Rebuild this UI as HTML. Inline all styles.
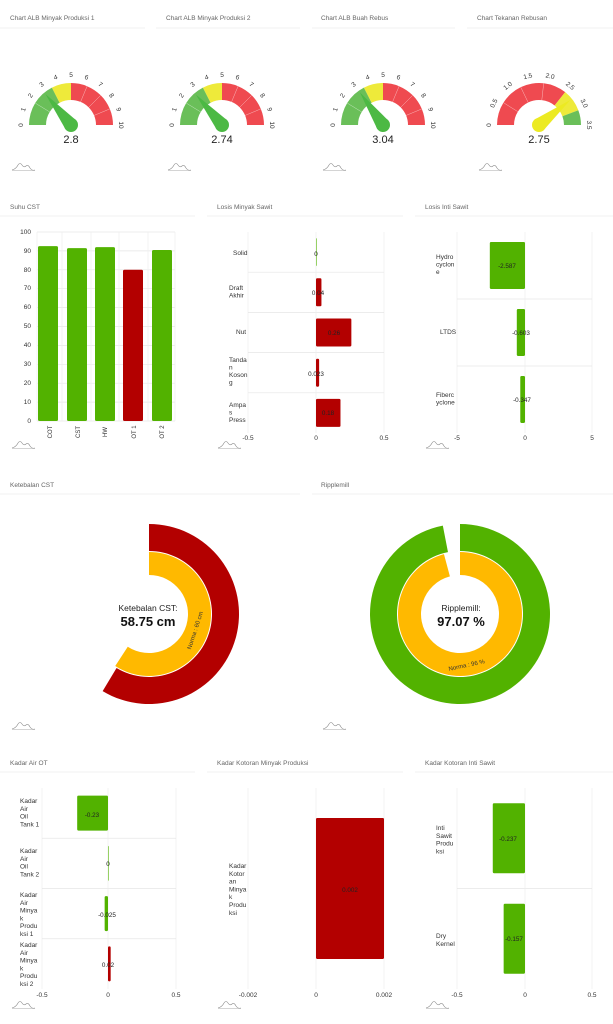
<!DOCTYPE html>
<html><head><meta charset="utf-8">
<style>
body{margin:0;background:#fff;}
svg{display:block;font-family:"Liberation Sans",sans-serif;}
.t{font-size:6.5px;fill:#666;}
.l{font-size:6.5px;fill:#333;}
.k{font-size:6.5px;fill:#333;}
</style></head><body>
<svg id="s" width="613" height="1024" viewBox="0 0 613 1024" xmlns="http://www.w3.org/2000/svg">
<g id="g"></g>
<!-- titles -->
<text class="t" x="10" y="20">Chart ALB Minyak Produksi 1</text>
<text class="t" x="166" y="20">Chart ALB Minyak Produksi 2</text>
<text class="t" x="321" y="20">Chart ALB Buah Rebus</text>
<text class="t" x="477" y="20">Chart Tekanan Rebusan</text>
<text class="t" x="10" y="209">Suhu CST</text>
<text class="t" x="217" y="209">Losis Minyak Sawit</text>
<text class="t" x="425" y="209">Losis Inti Sawit</text>
<text class="t" x="10" y="487">Ketebalan CST</text>
<text class="t" x="321" y="487">Ripplemill</text>
<text class="t" x="10" y="765">Kadar Air OT</text>
<text class="t" x="217" y="765">Kadar Kotoran Minyak Produksi</text>
<text class="t" x="425" y="765">Kadar Kotoran Inti Sawit</text>
<g stroke="#f0f0f0" stroke-width="1">
<line x1="0" y1="28" x2="145" y2="28"/><line x1="156" y1="28" x2="300" y2="28"/><line x1="312" y1="28" x2="455" y2="28"/><line x1="467" y1="28" x2="613" y2="28"/>
<line x1="0" y1="216" x2="195" y2="216"/><line x1="207" y1="216" x2="403" y2="216"/><line x1="415" y1="216" x2="613" y2="216"/>
<line x1="0" y1="494" x2="300" y2="494"/><line x1="312" y1="494" x2="613" y2="494"/>
<line x1="0" y1="772" x2="195" y2="772"/><line x1="207" y1="772" x2="403" y2="772"/><line x1="415" y1="772" x2="613" y2="772"/>
</g>
<!-- gauge values -->
<g font-size="11" fill="#222" text-anchor="middle">
<text x="71" y="143">2.8</text><text x="222" y="143">2.74</text><text x="383" y="143">3.04</text><text x="539" y="143">2.75</text>
</g>
<g id="gl" font-size="6.5" fill="#333" text-anchor="middle"></g>
<!-- Suhu CST -->
<g font-size="6.5" fill="#333" text-anchor="end">
<text x="31" y="234">100</text><text x="31" y="253">90</text><text x="31" y="272">80</text><text x="31" y="290">70</text><text x="31" y="309">60</text><text x="31" y="328">50</text><text x="31" y="347">40</text><text x="31" y="366">30</text><text x="31" y="385">20</text><text x="31" y="404">10</text><text x="31" y="423">0</text>
</g>
<g font-size="6" fill="#333" text-anchor="middle">
<text transform="translate(50,432) rotate(-90)" dy="2" text-anchor="middle">COT</text>
<text transform="translate(78,432) rotate(-90)" dy="2">CST</text>
<text transform="translate(105,432) rotate(-90)" dy="2">HW</text>
<text transform="translate(134,432) rotate(-90)" dy="2">OT 1</text>
<text transform="translate(162,432) rotate(-90)" dy="2">OT 2</text>
</g>
<!-- category labels -->
<g class="k">
<text x="233" y="255">Solid</text>
<text x="229" y="290">Draft<tspan x="229" dy="7.5">Akhir</tspan></text>
<text x="236" y="334">Nut</text>
<text x="229" y="362">Tanda<tspan x="229" dy="7.5">n</tspan><tspan x="229" dy="7.5">Koson</tspan><tspan x="229" dy="7.5">g</tspan></text>
<text x="229" y="407">Ampa<tspan x="229" dy="7.5">s</tspan><tspan x="229" dy="7.5">Press</tspan></text>
<text x="436" y="259">Hydro<tspan x="436" dy="7.5">cyclon</tspan><tspan x="436" dy="7.5">e</tspan></text>
<text x="440" y="334">LTDS</text>
<text x="436" y="397">Fiberc<tspan x="436" dy="7.5">yclone</tspan></text>
<text x="20" y="803">Kadar<tspan x="20" dy="7.8">Air</tspan><tspan x="20" dy="7.8">Oil</tspan><tspan x="20" dy="7.8">Tank 1</tspan></text>
<text x="20" y="853">Kadar<tspan x="20" dy="7.8">Air</tspan><tspan x="20" dy="7.8">Oil</tspan><tspan x="20" dy="7.8">Tank 2</tspan></text>
<text x="20" y="897">Kadar<tspan x="20" dy="7.8">Air</tspan><tspan x="20" dy="7.8">Minya</tspan><tspan x="20" dy="7.8">k</tspan><tspan x="20" dy="7.8">Produ</tspan><tspan x="20" dy="7.8">ksi 1</tspan></text>
<text x="20" y="947">Kadar<tspan x="20" dy="7.8">Air</tspan><tspan x="20" dy="7.8">Minya</tspan><tspan x="20" dy="7.8">k</tspan><tspan x="20" dy="7.8">Produ</tspan><tspan x="20" dy="7.8">ksi 2</tspan></text>
<text x="229" y="868">Kadar<tspan x="229" dy="7.8">Kotor</tspan><tspan x="229" dy="7.8">an</tspan><tspan x="229" dy="7.8">Minya</tspan><tspan x="229" dy="7.8">k</tspan><tspan x="229" dy="7.8">Produ</tspan><tspan x="229" dy="7.8">ksi</tspan></text>
<text x="436" y="830">Inti<tspan x="436" dy="7.8">Sawit</tspan><tspan x="436" dy="7.8">Produ</tspan><tspan x="436" dy="7.8">ksi</tspan></text>
<text x="436" y="938">Dry<tspan x="436" dy="7.8">Kernel</tspan></text>
</g>
<!-- axis ticks -->
<g font-size="6.5" fill="#333" text-anchor="middle">
<text x="248" y="440">-0.5</text><text x="316" y="440">0</text><text x="384" y="440">0.5</text>
<text x="457" y="440">-5</text><text x="525" y="440">0</text><text x="592" y="440">5</text>
<text x="42" y="997">-0.5</text><text x="108" y="997">0</text><text x="176" y="997">0.5</text>
<text x="248" y="997">-0.002</text><text x="316" y="997">0</text><text x="384" y="997">0.002</text>
<text x="457" y="997">-0.5</text><text x="525" y="997">0</text><text x="592" y="997">0.5</text>
</g>
<!-- bar value labels -->
<g font-size="6.3" fill="#222" text-anchor="middle">
<text x="316" y="256">0</text><text x="318" y="295">0.04</text><text x="334" y="335">0.26</text><text x="316" y="376">0.023</text><text x="328" y="415">0.18</text>
<text x="507" y="268">-2.587</text><text x="521" y="335">-0.603</text><text x="522" y="402">-0.347</text>
<text x="92" y="817">-0.23</text><text x="108" y="866">0</text><text x="107" y="917">-0.025</text><text x="108" y="967">0.02</text>
<text x="350" y="892">0.002</text>
<text x="508" y="841">-0.237</text><text x="514" y="941">-0.157</text>
</g>
<!-- donut texts -->
<text x="148" y="611" font-size="8.5" fill="#222" text-anchor="middle">Ketebalan CST:</text>
<text x="148" y="626" font-size="13" font-weight="bold" fill="#111" text-anchor="middle">58.75 cm</text>
<text x="197" y="631" font-size="6" fill="#333" text-anchor="middle" transform="rotate(-72 197 631)">Norma : 60 cm</text>
<text x="461" y="611" font-size="8.5" fill="#222" text-anchor="middle">Ripplemill:</text>
<text x="461" y="626" font-size="13" font-weight="bold" fill="#111" text-anchor="middle">97.07 %</text>
<text x="467" y="667" font-size="6" fill="#333" text-anchor="middle" transform="rotate(-12 467 667)">Norma : 96 %</text>
</svg>
<script>
var g=document.getElementById('g'),NS='http://www.w3.org/2000/svg';
function el(t,a){var e=document.createElementNS(NS,t);for(var k in a)e.setAttribute(k,a[k]);g.appendChild(e);return e;}
function pt(cx,cy,r,d){d=d*Math.PI/180;return [cx+r*Math.sin(d),cy-r*Math.cos(d)];}
function ring(cx,cy,r0,r1,a0,a1){var p1=pt(cx,cy,r1,a0),p2=pt(cx,cy,r1,a1),p3=pt(cx,cy,r0,a1),p4=pt(cx,cy,r0,a0),lg=(a1-a0)>180?1:0;
return 'M'+p1+'A'+r1+','+r1+' 0 '+lg+' 1 '+p2+'L'+p3+'A'+r0+','+r0+' 0 '+lg+' 0 '+p4+'Z';}
var gl=document.getElementById('gl');
function gauge(cx,cy,max,segs,val,nc,labels,divs){
 var A=function(v){return -90+v/max*180;};
 segs.forEach(function(s){el('path',{d:ring(cx,cy,25,42,A(s[0]),A(s[1])),fill:s[2]});});
 divs.forEach(function(v){var a=pt(cx,cy,25,A(v)),b=pt(cx,cy,42,A(v));el('line',{x1:a[0],y1:a[1],x2:b[0],y2:b[1],stroke:'#fff','stroke-width':0.5,'stroke-opacity':0.6});});
 labels.forEach(function(l){var p=pt(cx,cy,50,A(l[0]));var t=document.createElementNS(NS,'text');t.setAttribute('x',p[0]);t.setAttribute('y',p[1]+2);t.setAttribute('transform','rotate('+A(l[0])+' '+p[0]+' '+p[1]+')');t.textContent=l[1];gl.appendChild(t);});
 var a=A(val),tip=pt(cx,cy,40,a),l=pt(cx,cy,7,a-90),r=pt(cx,cy,7,a+90);
 el('path',{d:'M'+l+'L'+tip+'L'+r+'Z',fill:nc});
 el('circle',{cx:cx,cy:cy,r:7,fill:nc});
}
var G='#6abf59',Y='#eeea3a',R='#ef4a50';
var L10=[];for(var i=0;i<=10;i++)L10.push([i,''+i]);
var D10=[1.75,6.25,7.5,8.75];
gauge(71,125,10,[[0,3.5,G],[3.5,5,Y],[5,10,R]],2.8,'#4cb944',L10,D10);
gauge(222,125,10,[[0,3.5,G],[3.5,5,Y],[5,10,R]],2.74,'#4cb944',L10,D10);
gauge(383,125,10,[[0,3.5,G],[3.5,5,Y],[5,10,R]],3.04,'#4cb944',L10,D10);
gauge(539,125,3.5,[[0,2.5,R],[2.5,3.1,Y],[3.1,3.5,G]],2.75,'#ecea22',[[0,'0'],[0.5,'0.5'],[1,'1.0'],[1.5,'1.5'],[2,'2.0'],[2.5,'2.5'],[3,'3.0'],[3.5,'3.5']],[0.625,1.25,1.875]);
[[12,166],[168,166],[323,166],[479,166],[12,444],[218,444],[426,444],[12,725],[323,725],[12,1004],[218,1004],[426,1004]].forEach(function(p){
 el('path',{d:'M'+p[0]+','+(p[1]+4)+' q4,-1 6,-5 q2,-3 4,0 q2,3 4,1 q2,-2 4,2 q2,3 5,2',fill:'none',stroke:'#888','stroke-width':0.6});
 el('line',{x1:p[0],y1:p[1]+4.5,x2:p[0]+23,y2:p[1]+4.5,stroke:'#aaa','stroke-width':0.5});
});
function vg(x,y0,y1){el('line',{x1:x,y1:y0,x2:x,y2:y1,stroke:'#eee','stroke-width':0.7});}
function hg(x0,x1,y){el('line',{x1:x0,y1:y,x2:x1,y2:y,stroke:'#e6e6e6','stroke-width':0.7});}
for(var v=0;v<=100;v+=10){hg(37,175,421-v*1.89);}
[37,62,91,119,148,175].forEach(function(x){vg(x,232,421);});
var GR='#52b200',RD='#b30000';
[[38,92.5,GR],[67,91.5,GR],[95,92,GR],[123,80,RD],[152,90.5,GR]].forEach(function(b){var h=b[1]*1.89;el('rect',{x:b[0],y:421-h,width:20,height:h,rx:1.5,fill:b[2]});});
function hbar(x0,xz,x1,scale,top,bot,rows,bars,h){
 vg(x0,top,bot);vg(x1,top,bot);
 var rh=(bot-top)/rows;for(var i=1;i<rows;i++)hg(x0,x1,top+i*rh);
 vg(xz,top,bot);
 bars.forEach(function(b,i){var w=b[0]*scale,cy=top+rh*(i+0.5);el('rect',{x:Math.min(xz,xz+w),y:cy-h/2,width:Math.max(Math.abs(w),0.6),height:h,rx:1.2,fill:b[1]});});
}
hbar(248,316,384,136,232,433,5,[[0,GR],[0.04,RD],[0.26,RD],[0.023,RD],[0.18,RD]],28);
hbar(457,525,592,13.6,232,433,3,[[-2.587,GR],[-0.603,GR],[-0.347,GR]],47);
hbar(42,108,176,134,788,989,4,[[-0.23,GR],[0,GR],[-0.025,GR],[0.02,RD]],35);
hbar(248,316,384,34000,788,989,1,[[0.002,RD]],141);
hbar(457,525,592,136,788,989,2,[[-0.237,GR],[-0.157,GR]],70);
el('path',{d:ring(149,614,63,90,0,211),fill:RD});
el('path',{d:ring(149,614,39,62,0,213),fill:'#ffb900'});
el('path',{d:ring(460,614,63,90,0,349),fill:GR});
el('path',{d:ring(460,614,39,62,0,345),fill:'#ffb900'});
document.getElementById('s').insertBefore(g,document.getElementById('s').children[1]);
</script>
</body></html>
